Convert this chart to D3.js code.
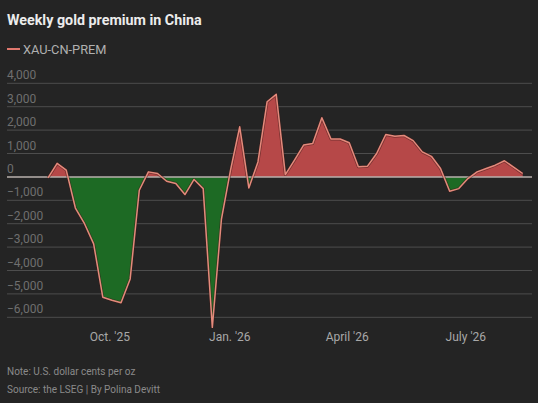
<!DOCTYPE html>
<html><head><meta charset="utf-8">
<script src="https://cdn.jsdelivr.net/npm/d3@7"></script>
<style>
html,body{margin:0;padding:0;background:#242424;}
svg{display:block;}
</style></head>
<body>
<script>
const startDate = "2025-08-15";
const values = [-40,580,290,-1330,-2000,-2860,-5140,-5270,-5380,-4360,
  -570,215,145,-185,-285,-755,-110,-500,-6430,-1800,
  300,2140,-470,640,3210,3530,100,715,1360,1430,
  2530,1620,1620,1460,430,460,1000,1810,1740,1770,
  1550,1070,880,360,-610,-500,-70,215,360,500,
  690,420,145];
const yTicks = [4000,3000,2000,1000,0,-1000,-2000,-3000,-4000,-5000,-6000];
const xTickDates = ["2025-10-01","2026-01-01","2026-04-01","2026-07-01"];
const xTickLabels = ["Oct. '25","Jan. '26","April '26","July '26"];
const seriesName = "XAU-CN-PREM";

const W = 538, H = 403;
const parse = d3.utcParse("%Y-%m-%d");
const t0 = parse(startDate);
const data = values.map((v,i)=>({date:d3.utcDay.offset(t0, i*7), v}));

const svg = d3.select("body").append("svg").attr("width",W).attr("height",H);
svg.append("rect").attr("width",W).attr("height",H).attr("fill","#242424");

const x = d3.scaleUtc().domain(d3.extent(data,d=>d.date)).range([48,522.7]);
const y = d3.scaleLinear().domain([-6000,4000]).range([317.3,83.3]);

const font = "Roboto, 'Noto Sans', sans-serif";

// title
svg.append("text").attr("x",7).attr("y",25).attr("fill","#ececec")
  .attr("font-family",font).attr("font-weight",700).attr("font-size",14.3)
  .text("Weekly gold premium in China");
// legend
svg.append("line").attr("x1",7).attr("x2",20).attr("y1",49).attr("y2",49)
  .attr("stroke","#e0786e").attr("stroke-width",2);
svg.append("text").attr("x",23).attr("y",53.5).attr("fill","#b0b0b0")
  .attr("font-family",font).attr("font-size",12.8).text(seriesName);

// grid + y labels
const gl = svg.append("g");
yTicks.forEach(t=>{
  if(t!==0) gl.append("line").attr("x1",7).attr("x2",532).attr("y1",y(t)).attr("y2",y(t))
    .attr("stroke","#4d4d4d").attr("stroke-width",1);
  gl.append("text").attr("x",7).attr("y",y(t)-4).attr("fill","#6f6f6f")
    .attr("font-family",font).attr("font-size",12)
    .text(t<0 ? "\u2212"+d3.format(",")(-t) : d3.format(",")(t));
});

// clips
const defs = svg.append("defs");
defs.append("clipPath").attr("id","pos").append("rect")
  .attr("x",0).attr("y",0).attr("width",W).attr("height",y(0));
defs.append("clipPath").attr("id","neg").append("rect")
  .attr("x",0).attr("y",y(0)).attr("width",W).attr("height",H-y(0));

const area = d3.area().x(d=>x(d.date)).y0(y(0)).y1(d=>y(d.v));
svg.append("path").datum(data).attr("d",area).attr("fill","#b64848").attr("clip-path","url(#pos)");
svg.append("path").datum(data).attr("d",area).attr("fill","#1d6a24").attr("clip-path","url(#neg)");

// zero line
svg.append("line").attr("x1",7).attr("x2",532).attr("y1",y(0)).attr("y2",y(0))
  .attr("stroke","#b8b0ac").attr("stroke-width",1.5);

// series line
const line = d3.line().x(d=>x(d.date)).y(d=>y(d.v));
svg.append("path").datum(data).attr("d",line).attr("fill","none")
  .attr("stroke","#3a1a18").attr("stroke-width",3).attr("stroke-linejoin","round").attr("opacity",0.5);
svg.append("path").datum(data).attr("d",line).attr("fill","none")
  .attr("stroke","#e48a7c").attr("stroke-width",1.5).attr("stroke-linejoin","round");

// x axis
const xa = svg.append("g").attr("transform","translate(0,332)")
  .call(d3.axisBottom(x).tickValues(xTickDates.map(parse))
    .tickFormat((d,i)=>xTickLabels[i]).tickSize(0).tickPadding(0));
xa.select(".domain").remove();
xa.selectAll("text").attr("fill","#a8a8a8").attr("font-family",font).attr("font-size",12);

// notes
svg.append("text").attr("x",7).attr("y",375).attr("fill","#8a8a8a")
  .attr("font-family",font).attr("font-size",10).text("Note: U.S. dollar cents per oz");
svg.append("text").attr("x",7).attr("y",393).attr("fill","#8a8a8a")
  .attr("font-family",font).attr("font-size",10).text("Source: the LSEG | By Polina Devitt");
</script>
</body></html>
